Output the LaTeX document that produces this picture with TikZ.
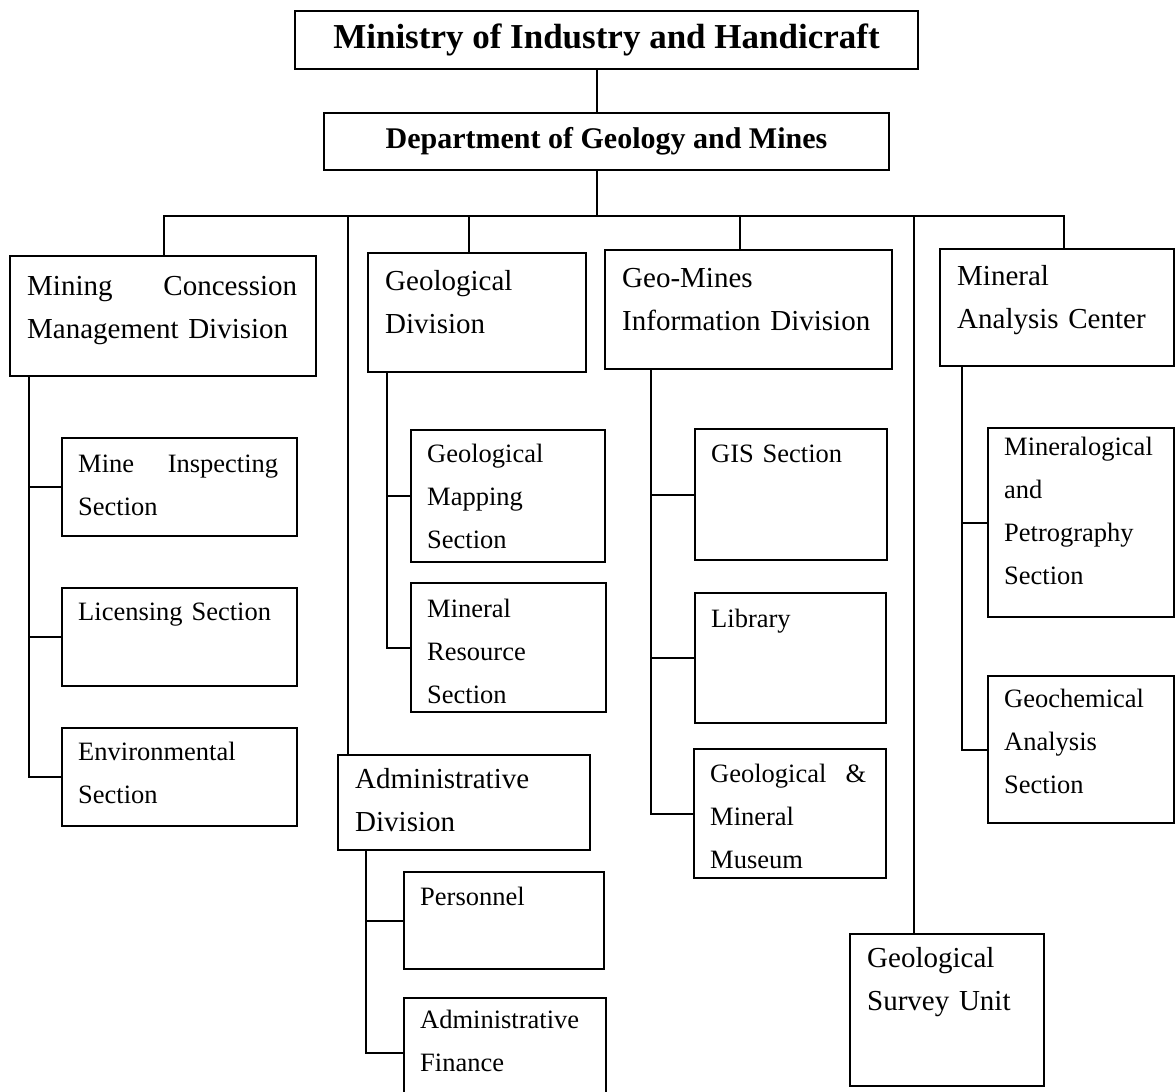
\documentclass[tikz,border=0pt]{standalone}
\usepackage{fontspec}
\setmainfont{Liberation Serif}
\begin{document}
\begin{tikzpicture}[
    x=1pt, y=-1pt,
    unit/.style={draw, line width=2pt, rectangle, anchor=north west, inner sep=0pt},
    divtxt/.style={anchor=base west, inner sep=0pt, align=left, font=\fontsize{29}{43}\selectfont},
    sectxt/.style={anchor=base west, inner sep=0pt, align=left, font=\fontsize{26.5}{43}\selectfont},
    link/.style={line width=2pt},
  ]
  \useasboundingbox (0,0) rectangle (1175,1092);
  \clip (0,0) rectangle (1175,1092);

  % head offices
  \node[unit, minimum width=623pt, minimum height=58pt,
        font=\bfseries\fontsize{35}{40}\selectfont] (ministry) at (294,10)
        {Ministry of Industry and Handicraft};
  \node[unit, minimum width=565pt, minimum height=57pt,
        font=\bfseries\fontsize{30}{36}\selectfont] (dept) at (323,112)
        {Department of Geology and Mines};

  % divisions
  \foreach \n/\x/\y/\w/\h/\bl/\txt in {
      mining/9/255/306/120/40/{\hbox to 270pt{Mining\hfill Concession}\\Management Division},
      geodiv/367/252/218/119/38/{Geological\\Division},
      gmid/604/249/287/119/38/{Geo-Mines\\Information Division},
      mac/939/248/234/117/37/{Mineral\\Analysis Center},
      admin/337/754/252/95/34/{Administrative\\Division},
      survey/849/933/194/152/34/{Geological\\Survey Unit}}{
    \node[unit, minimum width=\w pt, minimum height=\h pt] (\n) at (\x,\y) {};
    \node[divtxt, text width=\w pt] (\n-t) at ([shift={(18pt,-\bl pt)}]\n.north west) {\txt};
  }

  % sections
  \foreach \n/\x/\y/\w/\h/\bl/\txt in {
      insp/61/437/235/98/35/{\hbox to 200pt{Mine\hfill Inspecting}\\Section},
      lic/61/587/235/98/33/{Licensing Section},
      env/61/727/235/98/33/{Environmental\\Section},
      map/410/429/194/132/33/{Geological\\Mapping\\Section},
      res/410/582/195/129/35/{Mineral\\Resource\\Section},
      gis/694/428/192/131/34/{GIS Section},
      lib/694/592/191/130/35/{Library},
      mus/693/748/192/129/34/{\hbox to 156pt{Geological\hfill\&}\\Mineral\\Museum},
      mpet/987/427/186/189/28/{Mineralogical\\and\\Petrography\\Section},
      gchem/987/675/186/147/32/{Geochemical\\Analysis\\Section},
      pers/403/871/200/97/34/{Personnel},
      fin/403/997/202/110/31/{Administrative\\Finance}}{
    \node[unit, minimum width=\w pt, minimum height=\h pt] (\n) at (\x,\y) {};
    \node[sectxt, text width=\w pt] (\n-t) at ([shift={(17pt,-\bl pt)}]\n.north west) {\txt};
  }

  % main links
  \coordinate (hub) at (597,216);
  \draw[link] (ministry.south -| hub) -- (dept.north -| hub);
  \draw[link] (dept.south -| hub) -- (hub);
  \draw[link] ([xshift=1pt]mining.north) |- (hub) -| ([xshift=7pt]mac.north);
  \draw[link] ([xshift=-8pt]geodiv.north) |- (hub);
  \draw[link] ([xshift=-9pt]gmid.north) |- (hub);
  \draw[link] ([xshift=11pt]admin.north west) |- (hub);
  \draw[link] ([xshift=-33pt]survey.north) |- (hub);

  % branches
  \foreach \c in {insp,lic,env} \draw[link] ([xshift=20pt]mining.south west) |- (\c.west);
  \foreach \c in {map,res} \draw[link] ([xshift=20pt]geodiv.south west) |- (\c.west);
  \foreach \c in {gis,lib,mus} \draw[link] ([xshift=47pt]gmid.south west) |- (\c.west);
  \foreach \c in {mpet,gchem} \draw[link] ([xshift=23pt]mac.south west) |- (\c.west);
  \foreach \c in {pers,fin} \draw[link] ([xshift=29pt]admin.south west) |- (\c.west);
\end{tikzpicture}
\end{document}
